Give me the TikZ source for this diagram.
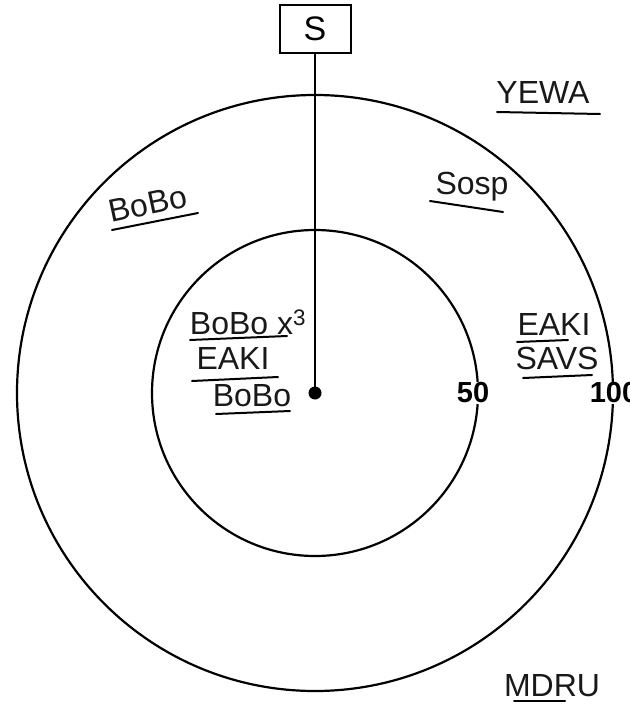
\documentclass[tikz,border=0pt]{standalone}
\usepackage{fontspec}
\setmainfont{Liberation Sans}
\begin{document}
\begin{tikzpicture}[x=1pt,y=-1pt,
  hand/.style={font=\fontsize{32}{34}\selectfont, inner sep=0pt, text=black!90},
  num/.style={font=\fontsize{29}{30}\selectfont\bfseries, fill=white, inner sep=1pt},
  uline/.style={line width=2pt, line cap=round},
  ring/.style={draw, line width=2.2pt}]
\useasboundingbox (0,0) rectangle (629,709);
\coordinate (c) at (315,393);
\draw[ring] (c) circle[radius=298];
\draw[ring] (c) circle[radius=163];
\node[draw, line width=2pt, minimum width=71, minimum height=48, font=\fontsize{34}{34}\selectfont] (s) at (315,29) {S};
\fill (c) circle[radius=6.5];
\draw[line width=2.2pt] (s.south) -- (c);
\node[hand] (yewa) at (543,92) {YEWA};
\draw[uline] (497,112) -- (600,114);
\node[hand, rotate=12] (bobo1) at (148,204) {BoBo};
\draw[uline] (112,230) -- (198,213);
\node[hand] (sosp) at (472,187) {Sosp};
\draw[uline] (430,201) -- (503,212);
\node[hand] (boboxa) at (248,322) {BoBo x\textsuperscript{3}};
\draw[uline] (190,340) -- (287,336);
\node[hand] (eaki1) at (233,358) {EAKI};
\draw[uline] (192,381) -- (278,377);
\node[hand] (bobo2) at (252,396) {BoBo};
\draw[uline] (216,414) -- (290,411);
\node[hand] (eaki2) at (554,324) {EAKI};
\draw[uline] (517,342) -- (568,340);
\node[hand] (savs) at (557,358) {SAVS};
\draw[uline] (523,378) -- (592,375);
\node[num] (n50) at (473,393) {50};
\node[num] (n100) at (614,393) {100};
\node[hand] (mdru) at (552,686) {MDRU};
\draw[uline] (514,701) -- (565,701);
\end{tikzpicture}
\end{document}
